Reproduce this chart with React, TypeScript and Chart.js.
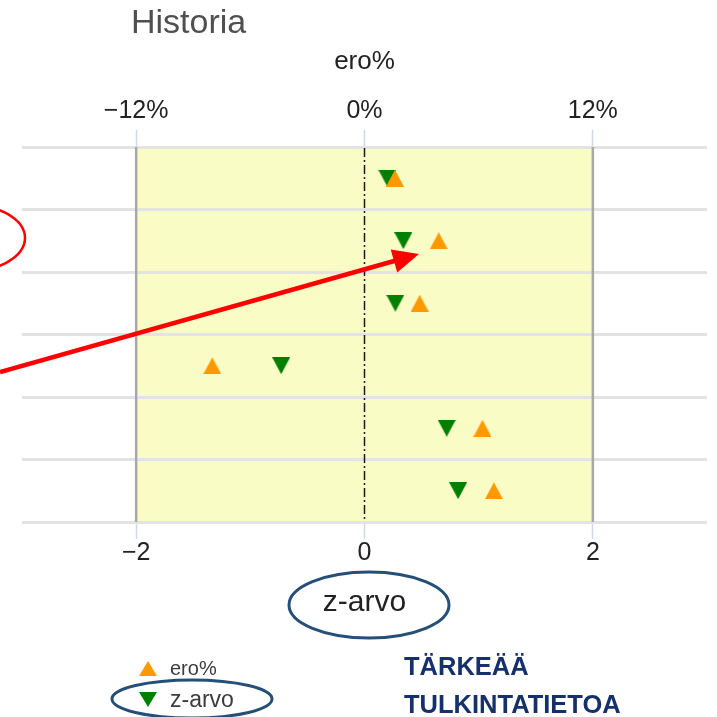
import React, { useEffect, useRef } from 'react';
import { Chart, registerables } from 'chart.js';

Chart.register(...registerables);

// ---- data ----
const rows = ['1', '2', '3', '4', '5', '6'];
const eroPct = [1.6, 3.9, 2.9, -8.0, 6.2, 6.8];
const zArvo = [0.2, 0.34, 0.27, -0.73, 0.72, 0.82];
const zTicks = [-2, 0, 2];
const eroTicks = [-12, 0, 12];
const zRange = [-3, 3];
const eroRange = [-18, 18];
const seriesLabels = ['ero%', 'z-arvo'];
const axisTitles = ['ero%', 'z-arvo'];
const titleText = 'Historia';
const noteLines = ['TÄRKEÄÄ', 'TULKINTATIETOA'];

const FONT = "'Liberation Sans', Arial, sans-serif";
const ORANGE = '#FF9900';
const GREEN = '#007F00';
const RED = '#FF0000';
const NAVY = '#264F78';

function triangle(w: number, h: number, color: string, up: boolean) {
  const c = document.createElement('canvas');
  c.width = w;
  c.height = h;
  const ctx = c.getContext('2d')!;
  ctx.fillStyle = color;
  ctx.beginPath();
  if (up) {
    ctx.moveTo(w / 2, 0);
    ctx.lineTo(w, h);
    ctx.lineTo(0, h);
  } else {
    ctx.moveTo(0, 0);
    ctx.lineTo(w, 0);
    ctx.lineTo(w / 2, h);
  }
  ctx.closePath();
  ctx.fill();
  return c;
}

const minus = (v: number) => (v < 0 ? '\u2212' + Math.abs(v) : String(v));

export default function App() {
  const ref = useRef<HTMLCanvasElement>(null);

  useEffect(() => {
    const canvas = ref.current!;
    Chart.defaults.font.family = FONT;

    const upTri = triangle(18, 17, ORANGE, true);
    const downTri = triangle(18, 17, GREEN, false);
    const upLeg = triangle(18, 15, ORANGE, true);
    const downLeg = triangle(18, 15, GREEN, false);

    const decor = {
      id: 'decor',
      beforeDraw(chart: any) {
        const { ctx, chartArea: a, scales } = chart;
        const x = scales.x;
        const l = x.getPixelForValue(zTicks[0]);
        const r = x.getPixelForValue(zTicks[zTicks.length - 1]);
        ctx.save();
        ctx.fillStyle = '#FAFCC6';
        ctx.fillRect(l, a.top, r - l, a.bottom - a.top);
        ctx.restore();
      },
      beforeDatasetsDraw(chart: any) {
        const { ctx, chartArea: a, scales } = chart;
        const x = scales.x;
        ctx.save();
        ctx.strokeStyle = '#A8A8A8';
        ctx.lineWidth = 2.5;
        [zTicks[0], zTicks[zTicks.length - 1]].forEach((v) => {
          const px = x.getPixelForValue(v);
          ctx.beginPath();
          ctx.moveTo(px, a.top);
          ctx.lineTo(px, a.bottom);
          ctx.stroke();
        });
        const p0 = Math.round(x.getPixelForValue(0)) - 0.5;
        ctx.strokeStyle = '#1A1A1A';
        ctx.lineWidth = 1.5;
        ctx.setLineDash([9, 3, 2, 3]);
        ctx.beginPath();
        ctx.moveTo(p0, a.top + 1);
        ctx.lineTo(p0, a.bottom);
        ctx.stroke();
        ctx.restore();
      },
      afterDraw(chart: any) {
        const { ctx } = chart;
        ctx.save();
        // title
        ctx.fillStyle = '#4F4F4F';
        ctx.font = `34px ${FONT}`;
        ctx.textBaseline = 'alphabetic';
        ctx.textAlign = 'left';
        ctx.fillText(titleText, 131, 33);

        // legend
        ctx.drawImage(upLeg, 139, 661);
        ctx.drawImage(downLeg, 139, 692);
        ctx.fillStyle = '#3C3C3C';
        ctx.font = `20px ${FONT}`;
        ctx.fillText(seriesLabels[0], 170, 675);
        ctx.font = `23px ${FONT}`;
        ctx.fillText(seriesLabels[1], 170, 707);

        // note
        ctx.fillStyle = '#15306A';
        ctx.font = `bold 25.5px ${FONT}`;
        ctx.fillText(noteLines[0], 404, 675);
        ctx.fillText(noteLines[1], 404, 713);

        // navy ellipses
        ctx.strokeStyle = NAVY;
        ctx.lineWidth = 3;
        ctx.beginPath();
        ctx.ellipse(369, 605, 80, 33, 0, 0, Math.PI * 2);
        ctx.stroke();
        ctx.beginPath();
        ctx.ellipse(192, 699, 80, 19, 0, 0, Math.PI * 2);
        ctx.stroke();

        // red ellipse
        ctx.strokeStyle = RED;
        ctx.lineWidth = 2.5;
        ctx.beginPath();
        ctx.ellipse(-35, 238, 60, 34, 0, 0, Math.PI * 2);
        ctx.stroke();

        // red arrow
        const sx = 0, sy = 372, tx = 419, ty = 254;
        const len = Math.hypot(tx - sx, ty - sy);
        const dx = (tx - sx) / len, dy = (ty - sy) / len;
        const hl = 26, hw = 12;
        const bx = tx - dx * hl, by = ty - dy * hl;
        ctx.lineWidth = 4.5;
        ctx.beginPath();
        ctx.moveTo(sx, sy);
        ctx.lineTo(bx + dx * 2, by + dy * 2);
        ctx.stroke();
        ctx.fillStyle = RED;
        ctx.beginPath();
        ctx.moveTo(tx, ty);
        ctx.lineTo(bx - dy * hw, by + dx * hw);
        ctx.lineTo(bx + dy * hw, by - dx * hw);
        ctx.closePath();
        ctx.fill();
        ctx.restore();
      },
    };

    const tickGrid = {
      drawOnChartArea: false,
      drawTicks: true,
      tickLength: 17,
      tickColor: '#CCD9E8',
      tickWidth: 1.5,
    };

    const chart = new Chart(canvas, {
      type: 'scatter',
      data: {
        datasets: [
          {
            label: seriesLabels[0],
            data: eroPct.map((v, i) => ({ x: v, y: rows[i] as any })),
            xAxisID: 'x2',
            yAxisID: 'y',
            pointStyle: upTri as any,
            pointRadius: 9,
            backgroundColor: ORANGE,
            borderColor: ORANGE,
          },
          {
            label: seriesLabels[1],
            data: zArvo.map((v, i) => ({ x: v, y: rows[i] as any })),
            xAxisID: 'x',
            yAxisID: 'y',
            pointStyle: downTri as any,
            pointRadius: 9,
            backgroundColor: GREEN,
            borderColor: GREEN,
          },
        ],
      },
      options: {
        responsive: false,
        maintainAspectRatio: false,
        devicePixelRatio: 1,
        animation: false,
        layout: { padding: { left: 22, right: 8, top: 30, bottom: 95 } },
        plugins: {
          legend: { display: false },
          tooltip: { enabled: false },
          title: { display: false },
        },
        scales: {
          x: {
            type: 'linear',
            position: 'bottom',
            min: zRange[0],
            max: zRange[1],
            afterBuildTicks: (s: any) => {
              s.ticks = zTicks.map((v) => ({ value: v }));
            },
            afterFit: (s: any) => {
              s.height = 100;
            },
            grid: tickGrid as any,
            border: { display: false },
            ticks: {
              autoSkip: false,
              maxRotation: 0,
              padding: 2,
              color: '#222',
              font: { size: 25, lineHeight: 1 },
              callback: (v: any) => minus(Number(v)),
            },
            title: {
              display: true,
              text: axisTitles[1],
              color: '#222',
              font: { size: 30, lineHeight: 1.2 },
              padding: { top: 0, bottom: 1 },
            },
          },
          x2: {
            type: 'linear',
            position: 'top',
            min: eroRange[0],
            max: eroRange[1],
            afterBuildTicks: (s: any) => {
              s.ticks = eroTicks.map((v) => ({ value: v }));
            },
            afterFit: (s: any) => {
              s.height = 117;
            },
            grid: tickGrid as any,
            border: { display: false },
            ticks: {
              autoSkip: false,
              maxRotation: 0,
              padding: 6,
              color: '#222',
              font: { size: 25, lineHeight: 1 },
              callback: (v: any) => minus(Number(v)) + '%',
            },
            title: {
              display: true,
              text: axisTitles[0],
              color: '#222',
              font: { size: 26, lineHeight: 1.2 },
              padding: { top: 16, bottom: 0 },
            },
          },
          y: {
            type: 'category',
            labels: rows,
            offset: true,
            position: 'left',
            afterFit: (s: any) => {
              s.width = 0;
            },
            grid: { offset: true, color: '#E3E3E3', lineWidth: 3, drawTicks: false },
            border: { display: false },
            ticks: { display: false },
          },
        },
      } as any,
      plugins: [decor],
    });

    return () => chart.destroy();
  }, []);

  return (
    <div style={{ position: 'fixed', left: 0, top: 0, width: 717, height: 717, background: '#fff' }}>
      <canvas ref={ref} width={717} height={717} style={{ display: 'block', width: 717, height: 717 }} />
    </div>
  );
}
